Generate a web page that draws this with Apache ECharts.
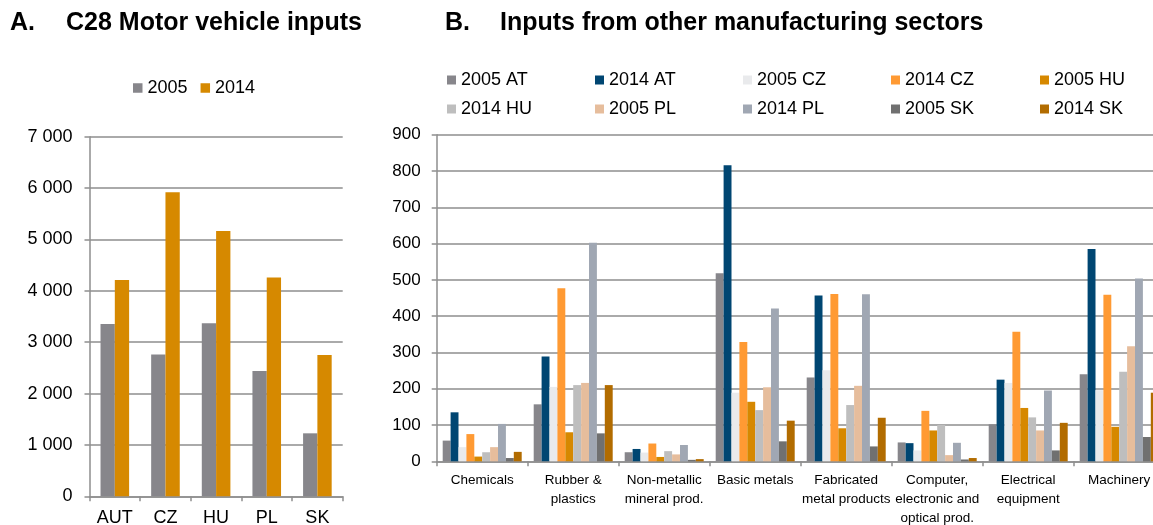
<!DOCTYPE html>
<html><head><meta charset="utf-8">
<script src="https://cdn.jsdelivr.net/npm/echarts@6/dist/echarts.min.js"></script>
<style>html,body{margin:0;padding:0;background:#fff}#c{width:1153px;height:525px}</style>
</head><body><div id="c"></div>
<script>
// ---------- Panel A data ----------
const countriesA = ['AUT', 'CZ', 'HU', 'PL', 'SK'];
const motor2005 = [3355, 2758, 3368, 2440, 1226];
const motor2014 = [4212, 5918, 5165, 4257, 2751];
const yTicksA = ['0', '1 000', '2 000', '3 000', '4 000', '5 000', '6 000', '7 000'];

// ---------- Panel B data ----------
const sectors = ['Chemicals', 'Rubber &\nplastics', 'Non-metallic\nmineral prod.', 'Basic metals',
  'Fabricated\nmetal products', 'Computer,\nelectronic and\noptical prod.', 'Electrical\nequipment', 'Machinery'];
const seriesNamesB = ['2005 AT', '2014 AT', '2005 CZ', '2014 CZ', '2005 HU',
  '2014 HU', '2005 PL', '2014 PL', '2005 SK', '2014 SK'];
const at2005 = [57, 157, 25, 518, 231, 52, 102, 240];
const at2014 = [135, 289, 34, 816, 457, 50, 225, 585];
const cz2005 = [39, 205, 24, 189, 251, 30, 216, 196];
const cz2014 = [75, 477, 49, 329, 461, 139, 357, 459];
const hu2005 = [13, 80, 12, 164, 91, 85, 147, 95];
const hu2014 = [25, 210, 28, 141, 155, 100, 121, 247];
const pl2005 = [39, 216, 19, 204, 208, 17, 85, 317];
const pl2014 = [103, 602, 45, 421, 460, 51, 195, 504];
const sk2005 = [9, 77, 4, 55, 41, 5, 30, 67];
const sk2014 = [26, 210, 6, 112, 120, 9, 106, 189];
const yTicksB = ['0', '100', '200', '300', '400', '500', '600', '700', '800', '900'];

// ---------- styles ----------
const valuesB = [at2005, at2014, cz2005, cz2014, hu2005, hu2014, pl2005, pl2014, sk2005, sk2014];
const colorsB = ['#87868b', '#004672', '#e9eaec', '#ff9a33', '#d68800',
  '#bebebe', '#e6bd9c', '#a0a7b3', '#707070', '#b26c00'];
const colorA2005 = '#87868b', colorA2014 = '#d68900';
const FONT = 'Liberation Sans, Arial, sans-serif';
const lineGray = '#8e8e8e';

const chart = echarts.init(document.getElementById('c'));

const legendCols = [447, 595, 743, 891, 1040];
const legendRows = [71, 100];
const legendsB = seriesNamesB.map((n, i) => ({
  data: [n], left: legendCols[i % 5], top: legendRows[Math.floor(i / 5)],
  padding: 0, itemWidth: 9, itemHeight: 9, icon: 'rect',
  textStyle: { fontSize: 18, color: '#000', fontFamily: FONT }
}));

const seriesB = seriesNamesB.map((n, i) => ({
  name: n, type: 'bar', xAxisIndex: 1, yAxisIndex: 1,
  data: valuesB[i], barWidth: 7.9, barGap: '0%',
  itemStyle: { color: colorsB[i] }
}));

const axisLine = { show: true, lineStyle: { color: lineGray, width: 1.5 } };
const axisTick = { show: true, length: 5, lineStyle: { color: lineGray, width: 1.5 } };
const splitLine = { show: true, lineStyle: { color: lineGray, width: 1.5 } };
const titleStyle = { fontSize: 25, fontWeight: 'bold', color: '#000', fontFamily: FONT };

chart.setOption({
  animation: false,
  backgroundColor: '#fff',
  title: [
    { text: 'A.', left: 10, top: 11, padding: 0, textStyle: titleStyle },
    { text: 'C28 Motor vehicle inputs', left: 66, top: 11, padding: 0, textStyle: titleStyle },
    { text: 'B.', left: 445, top: 11, padding: 0, textStyle: titleStyle },
    { text: 'Inputs from other manufacturing sectors', left: 500, top: 11, padding: 0, textStyle: titleStyle }
  ],
  legend: [
    { data: ['2005', '2014'], left: 133, top: 79, padding: 0, itemGap: 13, itemWidth: 9.5, itemHeight: 9.5, icon: 'rect',
      textStyle: { fontSize: 18, color: '#000', fontFamily: FONT } },
    ...legendsB
  ],
  grid: [
    { left: 89.5, top: 136.7, width: 253.2, height: 359.6, containLabel: false, outerBoundsMode: 'none' },
    { left: 436.7, top: 134.7, width: 728, height: 326.6, containLabel: false, outerBoundsMode: 'none' }
  ],
  xAxis: [
    { type: 'category', gridIndex: 0, data: countriesA, axisLine, axisTick,
      axisLabel: { fontSize: 18, color: '#000', fontFamily: FONT, margin: 13 } },
    { type: 'category', gridIndex: 1, data: sectors, axisLine, axisTick,
      axisLabel: { fontSize: 13.5, color: '#000', fontFamily: FONT, margin: 10, lineHeight: 18.8, interval: 0 } }
  ],
  yAxis: [
    { type: 'value', gridIndex: 0, min: 0, max: 7000, interval: 1000, axisLine, axisTick, splitLine,
      axisLabel: { fontSize: 18, color: '#000', fontFamily: FONT, margin: 17, formatter: v => yTicksA[Math.round(v / 1000)] } },
    { type: 'value', gridIndex: 1, min: 0, max: 900, interval: 100, axisLine, axisTick, splitLine,
      axisLabel: { fontSize: 17, color: '#000', fontFamily: FONT, margin: 16, formatter: v => yTicksB[Math.round(v / 100)] } }
  ],
  series: [
    { name: '2005', type: 'bar', xAxisIndex: 0, yAxisIndex: 0, data: motor2005, barWidth: 14.3, barGap: '0%', itemStyle: { color: colorA2005 } },
    { name: '2014', type: 'bar', xAxisIndex: 0, yAxisIndex: 0, data: motor2014, barWidth: 14.3, barGap: '0%', itemStyle: { color: colorA2014 } },
    ...seriesB
  ]
});
</script>
</body></html>
